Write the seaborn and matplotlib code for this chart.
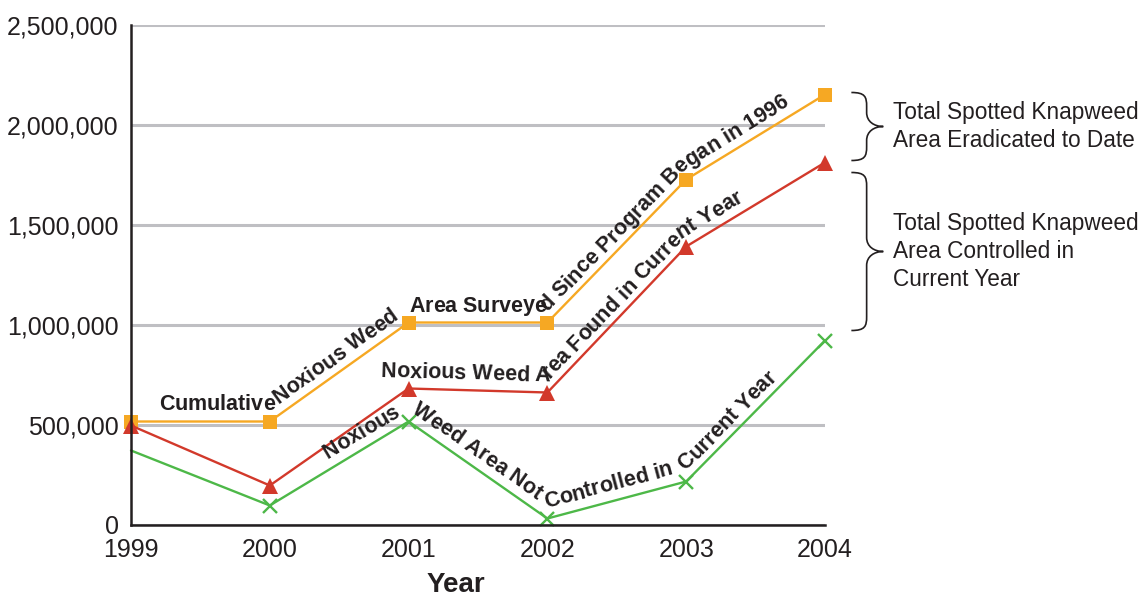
import math
import numpy as np
import pandas as pd
import seaborn as sns
import matplotlib
matplotlib.use("Agg")
import matplotlib.pyplot as plt
from matplotlib.font_manager import FontProperties, findfont, get_font
from matplotlib.path import Path
from matplotlib.patches import PathPatch
from matplotlib.transforms import IdentityTransform
from matplotlib.ticker import FuncFormatter

# ---- data -------------------------------------------------------------
years = [1999, 2000, 2001, 2002, 2003, 2004]
area_surveyed = [515000, 515000, 1010000, 1010000, 1725000, 2150000]
area_found = [495000, 195000, 680000, 660000, 1390000, 1810000]
area_not_controlled = [370000, 95000, 515000, 30000, 215000, 920000]

series_names = [
    "Cumulative Noxious Weed  Area Surveyed Since Program Began in 1996",
    "Noxious Weed Area Found in Current Year",
    "Noxious  Weed Area Not  Controlled in  Current Year",
]
y_ticks = [0, 500000, 1000000, 1500000, 2000000, 2500000]
brace_labels = [
    "Total Spotted Knapweed\nArea Eradicated to Date",
    "Total Spotted Knapweed\nArea Controlled in\nCurrent Year",
]

df = pd.DataFrame({
    "Year": years * 3,
    "Area": area_surveyed + area_found + area_not_controlled,
    "Series": [s for s in series_names for _ in years],
})

# ---- styling ----------------------------------------------------------
sns.set_style("white")
plt.rcParams["font.family"] = ["Liberation Sans", "DejaVu Sans"]
INK = "#231F20"
ORANGE = "#F6A823"
RED = "#D2392B"
GREEN = "#4DB848"
GRID = "#BFBFC3"

W, H, DPI = 1141, 597, 100
fig = plt.figure(figsize=(W / DPI, H / DPI), dpi=DPI)
ax = fig.add_axes([131 / W, 1 - 524.5 / H, 694 / W, 500 / H])

styles = {
    series_names[0]: dict(color=ORANGE, marker="s", markersize=10, markevery=None, mew=0),
    series_names[1]: dict(color=RED, marker="^", markersize=12, markevery=None, mew=0),
    series_names[2]: dict(color=GREEN, marker="x", markersize=10, markevery=[1, 2, 3, 4, 5], mew=1.7),
}

for name in series_names:
    st = styles[name]
    sns.lineplot(
        data=df[df["Series"] == name], x="Year", y="Area", ax=ax,
        color=st["color"], marker=st["marker"], markersize=st["markersize"],
        markevery=st["markevery"], markeredgewidth=st["mew"],
        markeredgecolor=st["color"], linewidth=1.7, errorbar=None,
        legend=False, clip_on=False, zorder=3,
    )

ax.set_xlim(1999, 2004)
ax.set_ylim(0, 2500000)
ax.set_xticks(years)
ax.set_yticks(y_ticks)
ax.yaxis.set_major_formatter(FuncFormatter(lambda v, _: f"{v:,.0f}"))
ax.set_xlabel("")
ax.set_ylabel("")

ax.grid(axis="y", color=GRID, linewidth=2.2, zorder=0)
ax.grid(axis="x", visible=False)
ax.set_axisbelow(True)
for side in ("top", "right"):
    ax.spines[side].set_visible(False)
for side in ("left", "bottom"):
    ax.spines[side].set_color(INK)
    ax.spines[side].set_linewidth(1.8)
    ax.spines[side].set_zorder(4)
ax.tick_params(axis="both", direction="out", length=5, width=1.8, color=INK,
               labelsize=18, labelcolor=INK, pad=4)
ax.tick_params(axis="x", pad=5)

fig.text(456 / W, 1 - 585 / H, "Year", fontsize=20, fontweight="bold",
         color=INK, ha="center", va="center")


# ---- labels running along the lines ----------------------------------
def text_along_line(xs, ys, text, x_start, lift_px, size, color):
    """Set each glyph on a copy of the polyline raised by lift_px,
    turned to the direction of the segment it sits on."""
    pts = ax.transData.transform(np.column_stack([xs, ys]).astype(float))
    pts[:, 1] += lift_px
    d = np.diff(pts, axis=0)
    seg_len = np.hypot(d[:, 0], d[:, 1])
    u = d / seg_len[:, None]
    cum = np.concatenate([[0], np.cumsum(seg_len)])

    xp = ax.transData.transform((x_start, 0))[0]
    if xp < pts[0, 0]:
        s0 = (xp - pts[0, 0]) / u[0, 0]
    else:
        s0 = cum[-1]
        for i in range(len(pts) - 1):
            if pts[i, 0] <= xp <= pts[i + 1, 0]:
                s0 = cum[i] + (xp - pts[i, 0]) / u[i, 0]
                break

    def locate(s):
        i = int(np.clip(np.searchsorted(cum, s, side="right") - 1, 0, len(pts) - 2))
        p = pts[i] + (s - cum[i]) * u[i]
        ang = math.degrees(math.atan2(u[i, 1], u[i, 0]))
        return p, ang

    fp = FontProperties(family="Liberation Sans", weight="bold", size=size)
    font = get_font(findfont(fp))
    font.set_size(size, DPI)
    s = s0
    inv = ax.transData.inverted()
    for ch in text:
        adv = font.load_char(ord(ch)).linearHoriAdvance / 65536
        if ch != " ":
            p, ang = locate(s + adv / 2)
            x, y = inv.transform(p)
            ax.text(x, y, ch, rotation=ang, rotation_mode="anchor",
                    ha="center", va="baseline", fontproperties=fp,
                    color=color, clip_on=False, zorder=5)
        s += adv


LABEL_PT = 15.5
text_along_line(years, area_surveyed, series_names[0], 1999.200, 11, LABEL_PT, INK)
text_along_line(years[2:], area_found[2:], series_names[1], 2000.80, 11, LABEL_PT, INK)
text_along_line(years, area_not_controlled, series_names[2], 2000.42, 11, LABEL_PT, INK)


# ---- braces on the right ----------------------------------------------
def brace(y_top, y_bot, x0_ax, stem_ax, tip_ax, r=14):
    to_disp = ax.transAxes.transform
    x0 = to_disp((x0_ax, 0))[0]
    xv = to_disp((stem_ax, 0))[0]
    xt = to_disp((tip_ax, 0))[0]
    yt = ax.transData.transform((0, y_top))[1]
    yb = ax.transData.transform((0, y_bot))[1]
    ym = (yt + yb) / 2
    verts = [
        (x0, yt),
        (x0 + 0.9 * (xv - x0), yt), (xv, yt - 0.3 * r), (xv, yt - r),
        (xv, ym + r),
        (xv, ym + 0.35 * r), (xt - 0.55 * (xt - xv), ym), (xt, ym),
        (xt - 0.55 * (xt - xv), ym), (xv, ym - 0.35 * r), (xv, ym - r),
        (xv, yb + r),
        (xv, yb + 0.3 * r), (x0 + 0.9 * (xv - x0), yb), (x0, yb),
    ]
    codes = [Path.MOVETO,
             Path.CURVE4, Path.CURVE4, Path.CURVE4,
             Path.LINETO,
             Path.CURVE4, Path.CURVE4, Path.CURVE4,
             Path.CURVE4, Path.CURVE4, Path.CURVE4,
             Path.LINETO,
             Path.CURVE4, Path.CURVE4, Path.CURVE4]
    fig.add_artist(PathPatch(Path(verts, codes), facecolor="none",
                             edgecolor=INK, linewidth=1.2,
                             transform=IdentityTransform()))
    return (y_top + y_bot) / 2


brace_spans = [(2160000, 1820000), (1760000, 970000)]
for (top, bot), label in zip(brace_spans, brace_labels):
    mid = brace(top, bot, 1.038, 1.060, 1.084)
    ax.text(1.098, mid, label, transform=ax.get_yaxis_transform(),
            ha="left", va="center", fontsize=16.3, color=INK,
            linespacing=1.28, clip_on=False)

fig.savefig("out.png", dpi=DPI)
